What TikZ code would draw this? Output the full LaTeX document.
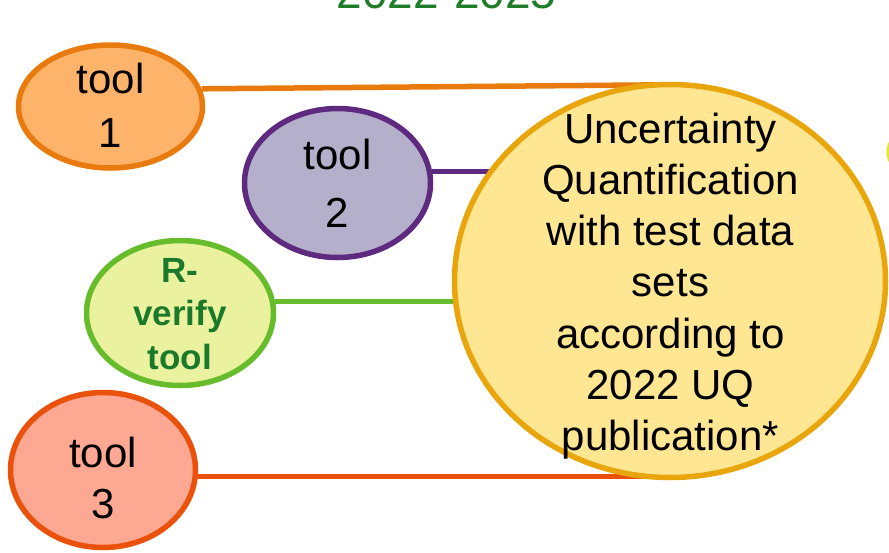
\documentclass[tikz,border=0pt]{standalone}
\usepackage{fontspec}
\setmainfont{Liberation Sans}
\usetikzlibrary{shapes.geometric,backgrounds}
\definecolor{oneFill}{HTML}{FDB46A}
\definecolor{oneLine}{HTML}{E87A0E}
\definecolor{twoFill}{HTML}{B4AFCB}
\definecolor{twoLine}{HTML}{5E2A80}
\definecolor{rvFill}{HTML}{EAF2A0}
\definecolor{rvLine}{HTML}{67BC2B}
\definecolor{rvText}{HTML}{1B7A2A}
\definecolor{threeFill}{HTML}{FCA893}
\definecolor{threeLine}{HTML}{EA520C}
\definecolor{bigFill}{HTML}{FFE692}
\definecolor{bigLine}{HTML}{E9A50C}
\definecolor{titleGreen}{HTML}{1F7D2A}
\definecolor{sliver}{HTML}{E8E620}
\begin{document}
\begin{tikzpicture}[x=1pt,y=-1pt,
  blob/.style={ellipse,line width=5.5pt,inner sep=0pt},
  lbl/.style={align=center,inner sep=0pt,text=black,font=\fontsize{42}{51}\selectfont},
  link/.style={line width=5.5pt}]
\useasboundingbox (0,0) rectangle (889,552);
\clip (0,0) rectangle (889,552);
% title (cut at the top)
\node[anchor=base,inner sep=0pt,text=titleGreen,font=\fontsize{46}{55}\selectfont] (title) at (446.5,8) {2022-2025};
% partial shape at the right edge
\draw[sliver,line width=3pt] (930,152) ellipse[x radius=42,y radius=30];
% ellipses
\node[blob,draw=oneLine,fill=oneFill,minimum width=184pt,minimum height=123pt] (tool1) at (110.5,106.5) {};
\node[blob,draw=twoLine,fill=twoFill,minimum width=186pt,minimum height=149pt] (tool2) at (337.5,183) {};
\node[blob,draw=rvLine,fill=rvFill,minimum width=187pt,minimum height=145pt] (rv) at (180,313) {};
\node[blob,draw=threeLine,fill=threeFill,minimum width=185pt,minimum height=155pt] (tool3) at (103,470) {};
\node[blob,draw=bigLine,fill=bigFill,minimum width=431pt,minimum height=393pt] (big) at (670,281) {};
% connectors behind
\begin{scope}[on background layer]
\draw[link,oneLine] (tool1.11) -- ([yshift=-3pt]big.north);
\draw[link,twoLine] (tool2.7) -- (tool2.7 -| big.center);
\draw[link,rvLine] (rv.7) -- (rv.7 -| big.center);
\draw[link,threeLine] (tool3.-4) -- (tool3.-4 -| big.center);
\end{scope}
% texts
\node[lbl,font=\fontsize{42}{54}\selectfont] (t1) at (110.5,105) {tool\\1};
\node[lbl,font=\fontsize{42}{58}\selectfont] (t2) at (337.5,183) {tool\\2};
\node[lbl,text=rvText,font=\bfseries\fontsize{35}{43.5}\selectfont] (trv) at (180,314) {R-\\verify\\tool};
\node[lbl,font=\fontsize{42}{51}\selectfont] (t3) at (103,477.5) {tool\\3};
\node[lbl,font=\fontsize{42}{51.2}\selectfont] (tbig) at (670.5,286) {Uncertainty\\Quantification\\with test data\\sets\\according to\\2022 UQ\\publication*};
\end{tikzpicture}
\end{document}
